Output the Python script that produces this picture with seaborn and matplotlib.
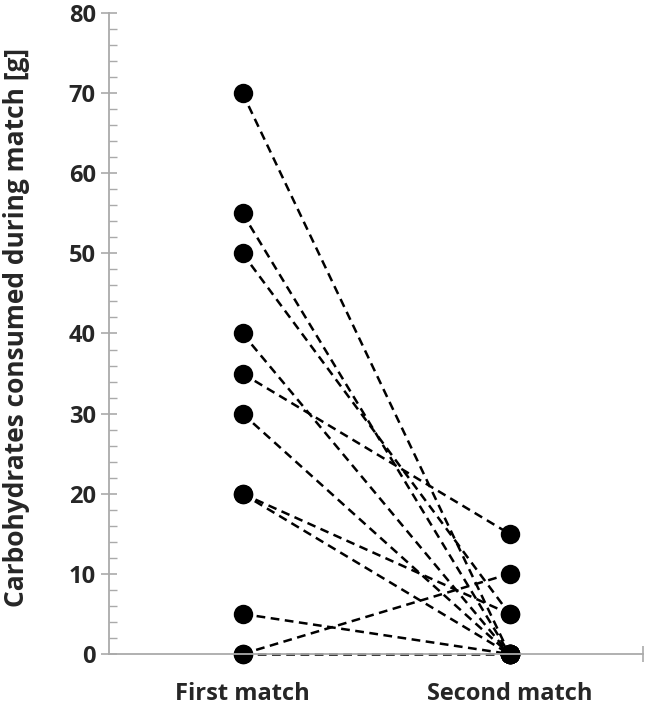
import matplotlib
matplotlib.use("Agg")
import matplotlib.pyplot as plt
import seaborn as sns
import pandas as pd
from matplotlib.ticker import MultipleLocator, FixedLocator

matches = ["First match", "Second match"]
first_match = [70, 55, 50, 40, 35, 30, 20, 20, 5, 0, 0]
second_match = [0, 0, 5, 0, 15, 0, 5, 0, 0, 10, 0]
y_ticks = [0, 10, 20, 30, 40, 50, 60, 70, 80]

rows = []
for i, (a, b) in enumerate(zip(first_match, second_match)):
    rows.append({"subject": i, "match": matches[0], "value": a})
    rows.append({"subject": i, "match": matches[1], "value": b})
df = pd.DataFrame(rows)

sns.set_style("white")
plt.rcParams['font.family'] = ['Open Sans', 'DejaVu Sans']

fig = plt.figure(figsize=(6.46, 7.05), dpi=100)
ax = fig.add_axes([109/646, 1-654/705, (643-109)/646, (654-13)/705])

sns.lineplot(data=df, x="match", y="value", units="subject", estimator=None,
             color="black", linestyle=(0, (3.5, 2.2)), linewidth=1.8,
             marker="o", markersize=14, markeredgewidth=0, markerfacecolor="black",
             ax=ax, legend=False, sort=False)
for ln in ax.lines:
    ln.set_clip_on(False)

ax.set_xlim(-0.5, 1.5)
ax.set_ylim(0, 80)
ax.set_yticks(y_ticks)
ax.yaxis.set_minor_locator(MultipleLocator(2))
ax.xaxis.set_minor_locator(FixedLocator([1.5]))

for s in ["top", "right"]:
    ax.spines[s].set_visible(False)
for s in ["left", "bottom"]:
    ax.spines[s].set_color("#aaaaaa")
    ax.spines[s].set_linewidth(1.3)

ax.tick_params(axis="y", which="both", left=True)
ax.tick_params(axis="x", which="both", bottom=True)
ax.tick_params(axis="y", which="major", direction="inout", length=11, width=1.2,
               color="#aaaaaa", labelsize=17, pad=4)
ax.tick_params(axis="y", which="minor", direction="in", length=6, width=1.0,
               color="#aaaaaa")
ax.tick_params(axis="x", which="major", length=0, labelsize=17, pad=20)
ax.tick_params(axis="x", which="minor", direction="inout", length=12, width=1.2,
               color="#aaaaaa")
for lab in ax.get_xticklabels() + ax.get_yticklabels():
    lab.set_fontweight("bold")

ax.set_xlabel("")
ax.set_ylabel("Carbohydrates consumed during match [g]", fontsize=19,
              fontweight="bold")
ax.yaxis.set_label_coords(-0.148, 0.51)

fig.savefig("out.png", dpi=100)
